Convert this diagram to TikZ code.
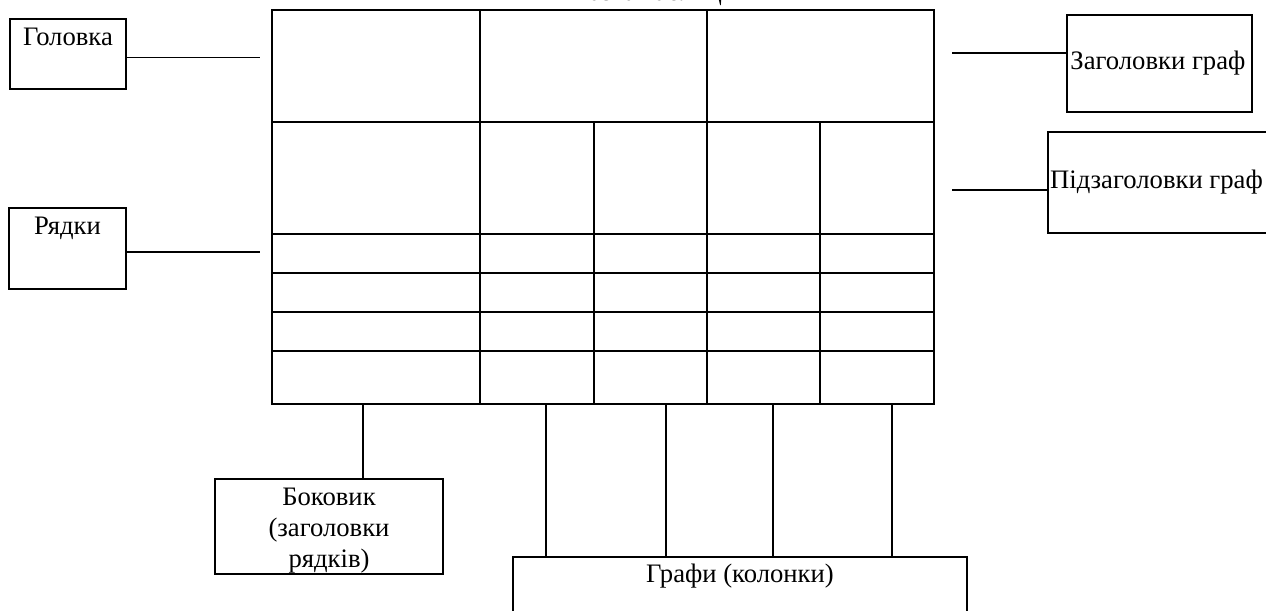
\documentclass[tikz,border=0pt]{standalone}
\usepackage{fontspec}
\setmainfont{Liberation Serif}
\begin{document}
\begin{tikzpicture}[x=0.75pt,y=-0.75pt,
  tbl/.style={line width=1.6pt},
  box/.style={draw,line width=1.2pt,inner sep=0pt},
  conn/.style={line width=1.2pt},
  lbl/.style={font=\fontsize{20}{24}\selectfont,inner sep=2pt,align=center}]
\useasboundingbox (0,0) rectangle (1266,610);
% title (cut by page top)
\node[lbl,anchor=base,inner sep=0pt] (title) at (650,1) {Назва таблиці};
% table
\draw[tbl] (272,10) rectangle (934,404);
\foreach \y in {122,234,273,312,351} \draw[tbl] (272,\y) -- (934,\y);
\foreach \x in {480,707} \draw[tbl] (\x,10) -- (\x,404);
\foreach \x in {594,820} \draw[tbl] (\x,122) -- (\x,404);
% boxes
\node[box,minimum width=116*0.75pt,minimum height=70*0.75pt] (golovka) at (68,54) {};
\node[lbl,anchor=north] at ([yshift=-5pt]golovka.north) {Головка};
\node[box,minimum width=117*0.75pt,minimum height=81*0.75pt] (ryadky) at (67.5,248.5) {};
\node[lbl,anchor=north] at ([yshift=-5pt]ryadky.north) {Рядки};
\node[box,minimum width=185*0.75pt,minimum height=97*0.75pt] (zag) at (1159.5,63.5) {};
\node[lbl,anchor=west] at ([xshift=1pt,yshift=0pt]zag.west) {Заголовки граф};
\node[box,minimum width=240*0.75pt,minimum height=101*0.75pt] (pidzag) at (1168,182.5) {};
\node[lbl,anchor=west] at ([xshift=0pt]pidzag.west) {Підзаголовки граф};
\node[box,minimum width=228*0.75pt,minimum height=95*0.75pt] (bokovyk) at (329,526.5) {};
\node[lbl,anchor=north,font=\fontsize{20}{23.5}\selectfont] at ([yshift=-5pt]bokovyk.north) {Боковик\\(заголовки\\рядків)};
\node[box,minimum width=454*0.75pt,minimum height=90*0.75pt] (grafy) at (740,602) {};
\node[lbl,anchor=north] at ([yshift=-4pt]grafy.north) {Графи (колонки)};
% connectors
\coordinate (gl) at (260,57.5);
\coordinate (rl) at (260,252);
\coordinate (zr) at (952,53);
\coordinate (pr) at (952,190);
\draw[conn] (golovka.east |- gl) -- (gl);
\draw[conn] (ryadky.east |- rl) -- (rl);
\draw[conn] (zr) -- (zr -| zag.west);
\draw[conn] (pr) -- (pr -| pidzag.west);
\coordinate (b0) at (363,404);
\draw[conn] (b0) -- (b0 |- bokovyk.north);
\foreach \x [count=\i] in {546,666,773,892} {
  \coordinate (c\i) at (\x,404);
  \draw[conn] (c\i) -- (c\i |- grafy.north);
}
\end{tikzpicture}
\end{document}
